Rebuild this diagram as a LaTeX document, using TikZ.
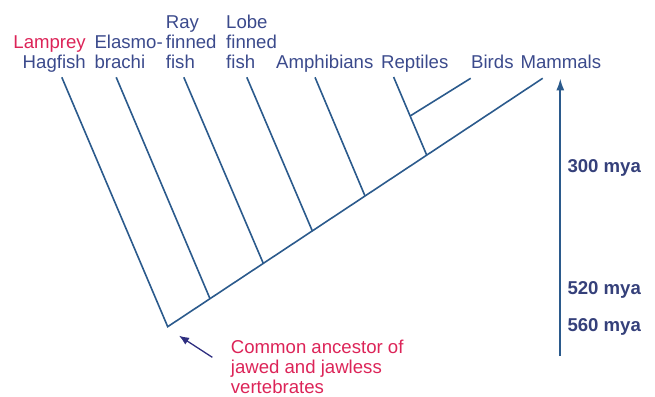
\documentclass[tikz,border=0pt]{standalone}
\usepackage{fontspec}
\setmainfont{Liberation Sans}
\usetikzlibrary{arrows.meta}
\definecolor{bleutexte}{HTML}{3B4A8C}
\definecolor{bleutrait}{HTML}{2B5A8C}
\definecolor{rouge}{HTML}{DC2458}
\definecolor{marine}{HTML}{2E2E80}
\definecolor{bleuage}{HTML}{35407A}
\begin{document}
\begin{tikzpicture}[x=1pt,y=-1pt]
% Styles (MODIFIABLES)
\tikzstyle{branche}=[-,line width=1.6pt,color=bleutrait]
\tikzstyle{fleche}=[-{Latex[length=12pt,width=8pt]},line width=2pt,color=bleutrait]
\tikzstyle{pointeur}=[-{Latex[length=10pt,width=8pt]},line width=1.3pt,color=marine]
\tikzstyle{etiquette}=[inner sep=0pt,text depth=0pt,anchor=south west,align=left,text=bleutexte,font=\fontsize{18.6}{20}\selectfont]
\tikzstyle{age}=[inner sep=0pt,anchor=base west,text=bleuage,font=\fontsize{18.6}{20}\selectfont\bfseries]
% Cadre
\useasboundingbox (0,0) rectangle (655,396);
% Noeuds internes (sur la branche principale)
\coordinate (R) at (167.7,326.7);
\coordinate (Ra) at (210,298.7);
\coordinate (Rb) at (263.3,263.4);
\coordinate (Rc) at (312.3,230.9);
\coordinate (Rd) at (365,196);
\coordinate (Re) at (426.7,155.1);
\coordinate (Rf) at (410.1,116);
% Feuilles
\coordinate (Fa) at (61.8,77.3);
\coordinate (Fb) at (116.2,77.3);
\coordinate (Fc) at (183.8,77.3);
\coordinate (Fd) at (246.8,77.3);
\coordinate (Fe) at (315,77.3);
\coordinate (Ff) at (393.6,77);
\coordinate (Fg) at (470.7,78.3);
\coordinate (Fh) at (542.7,78.3);
% Etiquettes
\node[etiquette,anchor=south east,align=right] (Hagfish) at (86,68.5) {\textcolor{rouge}{Lamprey}\\Hagfish};
\node[etiquette] (Elasmo) at (94.3,68.5) {Elasmo-\\brachi};
\node[etiquette] (Ray) at (165.7,68.5) {Ray\\finned\\fish};
\node[etiquette] (Lobe) at (226,68.5) {Lobe\\finned\\fish};
\node[etiquette] (Amphibians) at (276,68.5) {Amphibians};
\node[etiquette] (Reptiles) at (381,68.5) {Reptiles};
\node[etiquette] (Birds) at (471,68.5) {Birds};
\node[etiquette] (Mammals) at (520.3,68.5) {Mammals};
\node[etiquette,text=rouge] (Ancetre) at (230.7,394) {Common ancestor of\\jawed and jawless\\vertebrates};
% Echelle des temps
\coordinate (T0) at (560.3,356);
\coordinate (T1) at (560.3,78.3);
\node[age] (A300) at (567.3,172.3) {300 mya};
\node[age] (A520) at (567.3,294.5) {520 mya};
\node[age] (A560) at (567.3,331) {560 mya};
% Arcs (MODIFIABLES : Styles)
\draw[branche] (Fa)--(R)--(Fh);
\draw[branche] (Ra)--(Fb);
\draw[branche] (Rb)--(Fc);
\draw[branche] (Rc)--(Fd);
\draw[branche] (Rd)--(Fe);
\draw[branche] (Re)--(Ff);
\draw[branche] (Rf)--(Fg);
\draw[fleche] (T0)--(T1);
% Pointeur vers l'ancetre commun
\coordinate (P0) at (212.3,357.3);
\coordinate (P1) at (179,335.7);
\draw[pointeur] (P0)--(P1);
\end{tikzpicture}
\end{document}
